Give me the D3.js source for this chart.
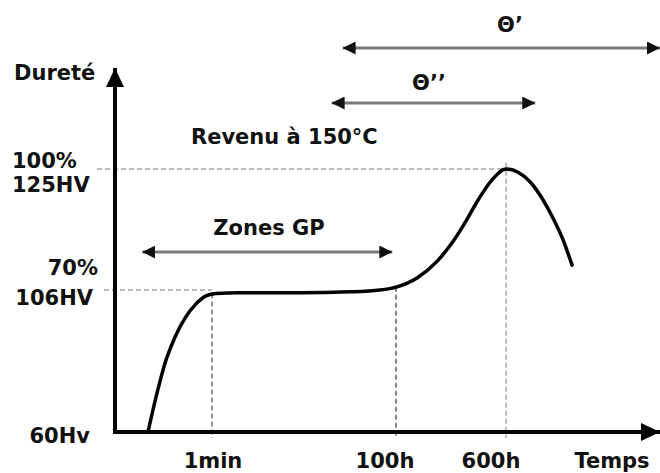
<!DOCTYPE html>
<html><head><meta charset="utf-8">
<script src="https://cdn.jsdelivr.net/npm/d3@7"></script>
<style>
html,body{margin:0;padding:0;background:#fff;}
text{font-family:"DejaVu Sans",Verdana,sans-serif;font-weight:bold;fill:#111;}
</style></head>
<body><svg id="c" width="660" height="473"></svg>
<script>
// ---- data ----
const timeTicks = [1, 2, 3];                 // stage index on time axis
const timeLabels = ["1min", "100h", "600h"];
const hardTicks = [125, 106, 60];
const hardLabels = [["100%", "125HV"], ["70%", "106HV"], ["60Hv"]];
const curveT  = [0.34,0.433,0.526,0.619,0.722,0.835,0.938,1.022,1.152,1.478,1.75,1.913,2.009,2.191,2.373,2.518,2.636,2.745,2.873,3.0,3.078,3.156,3.234,3.305,3.37,3.429];
const curveHV = [60,72.6,83.3,90.8,96.9,101.5,104.1,104.9,105.1,105.1,105.4,106.0,106.5,107.9,110.5,113.6,116.8,120.1,123.3,125.0,124.5,123.0,120.4,117.3,113.9,109.9];
const spanNames = ["Θ’", "Θ’’", "Zones GP"];
const spanStart = [1.71, 1.65, 0.28];
const spanEnd   = [4.0, 3.19, 1.98];

// ---- scales ----
const svg = d3.select("#c");
const x = d3.scaleLinear().domain([0,1,2,3,4]).range([115,212,396,506,660]);
const y = d3.scaleLinear().domain([60,106,125]).range([432,290,169]);
const FS = 21;

const defs = svg.append("defs");
function marker(id, len, wid, color, reverse){
  const m = defs.append("marker").attr("id", id).attr("markerUnits","userSpaceOnUse")
    .attr("markerWidth", len).attr("markerHeight", wid)
    .attr("refX", reverse ? 0 : len).attr("refY", wid/2).attr("orient","auto");
  m.append("path").attr("d", reverse ? `M0,${wid/2}L${len},0L${len},${wid}Z` : `M0,0L${len},${wid/2}L0,${wid}Z`).attr("fill", color);
}
marker("axHead", 19, 18, "#000", false);
marker("spEnd", 13, 13, "#111", false);
marker("spStart", 13, 13, "#111", true);

// dashed reference lines
const dash = svg.append("g").attr("fill","none").attr("stroke-width",1.1).attr("stroke-dasharray","5,3");
dash.append("line").attr("x1",97).attr("x2",x(3)).attr("y1",y(125)).attr("y2",y(125)).attr("stroke","#777");
dash.append("line").attr("x1",104).attr("x2",x(1)).attr("y1",y(106)).attr("y2",y(106)).attr("stroke","#777");
const vTop = [y(104.9), y(106.5), y(126)];
const vCol = ["#444","#222","#888"];
timeTicks.forEach((t,i)=>{
  dash.append("line").attr("x1",x(t)).attr("x2",x(t)).attr("y1",vTop[i]).attr("y2",y(60)+6).attr("stroke",vCol[i]);
});

// axes
svg.append("line").attr("x1",x(0)).attr("y1",y(60)).attr("x2",x(0)).attr("y2",68)
  .attr("stroke","#000").attr("stroke-width",4).attr("marker-end","url(#axHead)");
svg.append("line").attr("x1",x(0)-2).attr("y1",y(60)).attr("x2",x(4)).attr("y2",y(60))
  .attr("stroke","#000").attr("stroke-width",4).attr("marker-end","url(#axHead)");

// curve
const pts = curveT.map((t,i)=>[t, curveHV[i]]);
svg.append("path").datum(pts)
  .attr("d", d3.line().x(d=>x(d[0])).y(d=>y(d[1])).curve(d3.curveMonotoneX))
  .attr("fill","none").attr("stroke","#000").attr("stroke-width",3.5).attr("stroke-linecap","round");

// x tick labels
const xdx = [1, -11, -15];
timeLabels.forEach((lab,i)=>{
  svg.append("text").attr("x", x(timeTicks[i]) + xdx[i]).attr("y", 468)
    .attr("text-anchor","middle").attr("font-size",FS).text(lab);
});
svg.append("text").attr("x",612).attr("y",468).attr("text-anchor","middle").attr("font-size",FS).text("Temps");

// y labels
svg.append("text").attr("x",14).attr("y",80).attr("font-size",FS).text("Dureté");
svg.append("text").attr("x",12).attr("y",y(125)-1).attr("font-size",FS).text(hardLabels[0][0]);
svg.append("text").attr("x",12).attr("y",y(125)+23).attr("font-size",FS).text(hardLabels[0][1]);
svg.append("text").attr("x",98).attr("y",y(106)-15).attr("text-anchor","end").attr("font-size",FS).text(hardLabels[1][0]);
svg.append("text").attr("x",93).attr("y",y(106)+15).attr("text-anchor","end").attr("font-size",FS).text(hardLabels[1][1]);
svg.append("text").attr("x",90).attr("y",y(60)+11).attr("text-anchor","end").attr("font-size",FS).text(hardLabels[2][0]);

// span arrows
const spanY = [48, 103, 252];
const labY = [32, 90, 235];
const labX = [510, 429, 269];
spanNames.forEach((n,i)=>{
  svg.append("line").attr("x1",x(spanStart[i])).attr("x2",x(spanEnd[i])).attr("y1",spanY[i]).attr("y2",spanY[i])
    .attr("stroke","#7a7a7a").attr("stroke-width",3)
    .attr("marker-start","url(#spStart)").attr("marker-end","url(#spEnd)");
  svg.append("text").attr("x",labX[i]).attr("y",labY[i]).attr("text-anchor","middle").attr("font-size",FS).text(n);
});
svg.append("text").attr("x",191).attr("y",144).attr("font-size",FS).text("Revenu à 150°C");
</script></body></html>
